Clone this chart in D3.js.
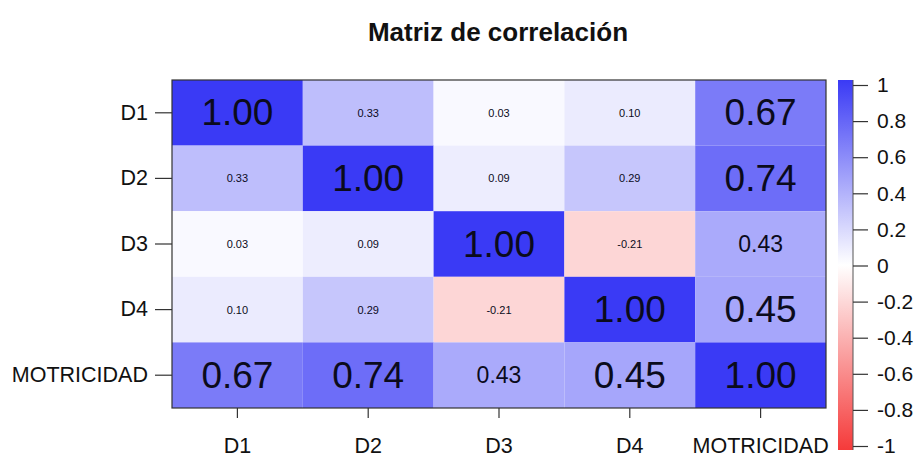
<!DOCTYPE html>
<html>
<head>
<meta charset="utf-8">
<script src="https://cdn.jsdelivr.net/npm/d3@7"></script>
<style>
    body { margin: 0; background: #fff; }
    svg { font-family: "Liberation Sans", Arial, sans-serif; }
</style>
</head>
<body>
<svg id="corr-plot" width="918" height="457"></svg>
<script>
var variables = ["D1", "D2", "D3", "D4", "MOTRICIDAD"];
var corrD1 = [1.00, 0.33, 0.03, 0.10, 0.67];
var corrD2 = [0.33, 1.00, 0.09, 0.29, 0.74];
var corrD3 = [0.03, 0.09, 1.00, -0.21, 0.43];
var corrD4 = [0.10, 0.29, -0.21, 1.00, 0.45];
var corrMot = [0.67, 0.74, 0.43, 0.45, 1.00];
var legendTicks = [1, 0.8, 0.6, 0.4, 0.2, 0, -0.2, -0.4, -0.6, -0.8, -1];

var corrRows = [corrD1, corrD2, corrD3, corrD4, corrMot];

var svg = d3.select('#corr-plot');
var margin = {top: 80, right: 92, bottom: 49, left: 172};
var width = +svg.attr("width");
var height = +svg.attr("height");

var color = d3.scaleLinear()
    .domain([-1, 0, 1])
    .range(["#f53a3a", "#ffffff", "#3a3af5"]);

var x = d3.scaleBand()
    .domain(variables)
    .range([margin.left, width - margin.right]);

var y = d3.scaleBand()
    .domain(variables)
    .range([margin.top, height - margin.bottom]);

// flatten rows into cells
var cells = [];
corrRows.forEach(function(row, i) {
    row.forEach(function(v, j) {
        cells.push({row: variables[i], col: variables[j], value: v});
    });
});

function labelSize(v) {
    var a = Math.abs(v);
    if (a < 0.4) return 11;
    if (a < 0.44) return 23;
    return 37;
}

svg.selectAll('rect.cell')
    .data(cells)
    .enter()
    .append('rect')
    .attr("class", "cell")
    .attr("x", function(d) { return x(d.col); })
    .attr("y", function(d) { return y(d.row); })
    .attr("width", x.bandwidth())
    .attr("height", y.bandwidth())
    .attr("fill", function(d) { return color(d.value); });

svg.selectAll('text.val')
    .data(cells)
    .enter()
    .append('text')
    .attr("class", "val")
    .attr("x", function(d) { return x(d.col) + x.bandwidth() / 2; })
    .attr("y", function(d) { return y(d.row) + y.bandwidth() / 2; })
    .attr("text-anchor", "middle")
    .attr("dominant-baseline", "central")
    .attr("fill", "#0b0b1c")
    .style("font-size", function(d) { return labelSize(d.value) + "px"; })
    .text(function(d) { return d.value.toFixed(2); });

// frame
svg.append("rect")
    .attr("x", margin.left)
    .attr("y", margin.top)
    .attr("width", width - margin.right - margin.left)
    .attr("height", height - margin.bottom - margin.top)
    .attr("fill", "none")
    .attr("stroke", "#333")
    .attr("stroke-width", 1.2);

// axes
var xAxis = d3.axisBottom(x).tickSize(10).tickPadding(20);
var yAxis = d3.axisLeft(y).tickSize(17).tickPadding(7);

var gx = svg.append("g")
    .attr("transform", "translate(0," + (height - margin.bottom) + ")")
    .call(xAxis);
var gy = svg.append("g")
    .attr("transform", "translate(" + margin.left + ",0)")
    .call(yAxis);

[gx, gy].forEach(function(g) {
    g.select(".domain").remove();
    g.selectAll("line").attr("stroke", "#333").attr("stroke-width", 1.2);
    g.selectAll("text")
        .attr("fill", "#111")
        .style("font-size", "21.5px")
        .style("font-family", "Liberation Sans, Arial, sans-serif");
});

// colour legend
var legendX = 838, legendW = 15;
var ly = d3.scaleLinear().domain([1, -1]).range([85, 446]);

var defs = svg.append("defs");
var grad = defs.append("linearGradient")
    .attr("id", "corr-grad")
    .attr("x1", 0).attr("y1", 0).attr("x2", 0).attr("y2", 1);
grad.selectAll("stop")
    .data([1, 0, -1])
    .enter()
    .append("stop")
    .attr("offset", function(d, i) { return (i * 50) + "%"; })
    .attr("stop-color", function(d) { return color(d); });

svg.append("rect")
    .attr("x", legendX)
    .attr("y", 80)
    .attr("width", legendW)
    .attr("height", 370)
    .attr("fill", "url(#corr-grad)");

var legendAxis = d3.axisRight(ly)
    .tickValues(legendTicks)
    .tickSize(15)
    .tickPadding(9);

var gl = svg.append("g")
    .attr("transform", "translate(" + (legendX + legendW) + ",0)")
    .call(legendAxis);
gl.select(".domain").attr("stroke", "#555").attr("d", "M0,80V450");
gl.selectAll("line").attr("stroke", "#333").attr("stroke-width", 1.2);
gl.selectAll("text")
    .attr("fill", "#111")
    .style("font-size", "21px")
    .text(function(d) { return d === 0 ? "0" : String(d); });

// title
svg.append("text")
    .attr("x", 498)
    .attr("y", 41)
    .attr("text-anchor", "middle")
    .attr("fill", "#111")
    .style("font-size", "26px")
    .style("font-weight", "bold")
    .text("Matriz de correlación");
</script>
</body>
</html>
